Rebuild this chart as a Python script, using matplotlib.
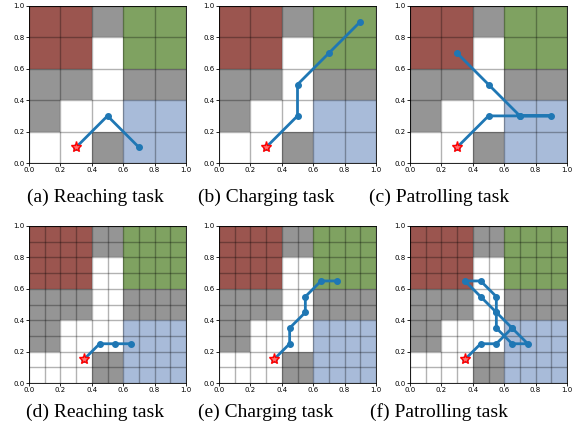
import matplotlib
matplotlib.use('Agg')
import matplotlib.pyplot as plt
import numpy as np
from matplotlib.colors import ListedColormap

# grid map, rows from top (y=1.0) to bottom; 0 free, 1 obstacle, 2 red, 3 green, 4 blue
grid_map = [
    [2, 2, 1, 3, 3],
    [2, 2, 0, 3, 3],
    [1, 1, 0, 1, 1],
    [1, 0, 0, 4, 4],
    [0, 0, 1, 4, 4],
]
map_colors = ['#ffffff', '#959595', '#9b554f', '#7fa261', '#a8bbd9']

captions = ['(a) Reaching task', '(b) Charging task', '(c) Patrolling task',
            '(d) Reaching task', '(e) Charging task', '(f) Patrolling task']

# paths (x, y)
path_a = [(0.3, 0.1), (0.5, 0.3), (0.7, 0.1)]
path_b = [(0.3, 0.1), (0.5, 0.3), (0.5, 0.5), (0.7, 0.7), (0.9, 0.9)]
path_c = [(0.3, 0.1), (0.5, 0.3), (0.7, 0.3), (0.9, 0.3), (0.7, 0.3), (0.5, 0.5), (0.3, 0.7)]
path_d = [(0.35, 0.15), (0.45, 0.25), (0.55, 0.25), (0.65, 0.25)]
path_e = [(0.35, 0.15), (0.45, 0.25), (0.45, 0.35), (0.55, 0.45), (0.55, 0.55),
          (0.65, 0.65), (0.75, 0.65)]
path_f = [(0.35, 0.15), (0.45, 0.25), (0.55, 0.25), (0.65, 0.35), (0.75, 0.25),
          (0.65, 0.25), (0.55, 0.35), (0.55, 0.45), (0.55, 0.55), (0.45, 0.65),
          (0.35, 0.65), (0.45, 0.55), (0.55, 0.45), (0.65, 0.35)]
paths = [path_a, path_b, path_c, path_d, path_e, path_f]
grid_steps = [0.2, 0.2, 0.2, 0.1, 0.1, 0.1]

W, H = 579, 434
fig = plt.figure(figsize=(W / 100, H / 100), dpi=100)

lefts = [29, 219, 410]
tops = [6, 226]
cap_x = [95, 266, 439]
cap_y = [197, 412]
size = 157

cmap = ListedColormap(map_colors)
ticks = np.arange(0, 1.01, 0.2)

for i in range(6):
    r, c = divmod(i, 3)
    ax = fig.add_axes([lefts[c] / W, 1 - (tops[r] + size) / H, size / W, size / H])
    ax.imshow(np.array(grid_map), cmap=cmap, vmin=0, vmax=4, extent=(0, 1, 0, 1),
              origin='upper', interpolation='nearest', aspect='auto', zorder=0)
    step = grid_steps[i]
    for g in np.arange(0, 1.001, step):
        ax.axvline(g, color='black', alpha=0.3, lw=1, zorder=1)
        ax.axhline(g, color='black', alpha=0.3, lw=1, zorder=1)
    xs = [p[0] for p in paths[i]]
    ys = [p[1] for p in paths[i]]
    ax.plot(xs, ys, '-o', color='#1f77b4', lw=2, ms=4, zorder=3)
    ax.plot(xs[0], ys[0], '*', color='red', ms=8, mfc='#ff7070', mec='red', zorder=4)
    ax.set_xlim(0, 1)
    ax.set_ylim(0, 1)
    ax.set_xticks(ticks)
    ax.set_yticks(ticks)
    ax.tick_params(labelsize=5, length=2, width=0.6, pad=1)
    for s in ax.spines.values():
        s.set_linewidth(0.6)
    fig.text(cap_x[c] / W, 1 - cap_y[r] / H, captions[i], ha='center', va='center',
             family='Liberation Serif', fontsize=14)

fig.savefig('out.png', dpi=100)
